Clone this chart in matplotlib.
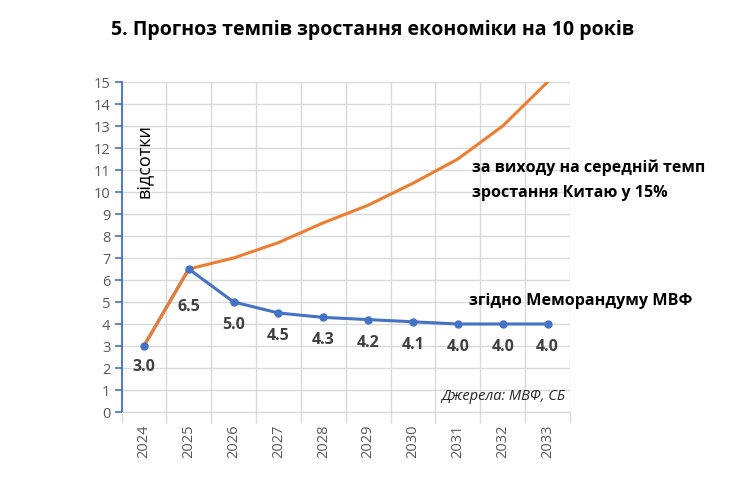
import matplotlib.pyplot as plt
import numpy as np

plt.rcParams['font.family'] = ['Open Sans', 'DejaVu Sans']

years = ['2024', '2025', '2026', '2027', '2028', '2029', '2030', '2031', '2032', '2033']
imf = [3.0, 6.5, 5.0, 4.5, 4.3, 4.2, 4.1, 4.0, 4.0, 4.0]
china = [3.0, 6.5, 7.0, 7.7, 8.6, 9.4, 10.4, 11.5, 13.0, 15.0]
# label offsets below points, in pixels
lab_off = [-21, -38, -23, -23, -23, -23, -23, -23, -23, -23]

blue = '#4472C4'
orange = '#ED7D31'
grid_c = '#D9D9D9'

fig = plt.figure(figsize=(7.5, 4.83), dpi=100)
ax = fig.add_axes([121.5 / 750, 1 - 412 / 483, (570 - 121.5) / 750, 330 / 483])

x = np.arange(len(years))
ax.plot(x, imf, color=blue, lw=2.2, zorder=3)
ax.plot(x, china, color=orange, lw=2.2, solid_capstyle='round', zorder=4)
ax.plot(x, imf, color=blue, ls='none', marker='o', ms=5, zorder=5)

for xi, v, o in zip(x, imf, lab_off):
    ax.annotate(f'{v:.1f}', (xi, v), xytext=(0, o * 0.72), textcoords='offset points',
                ha='center', va='center', fontsize=11.5, fontweight='bold', color='#404040')

ax.set_xlim(-0.5, len(years) - 0.5)
ax.set_ylim(0, 15)
ax.set_yticks(range(0, 16))
ax.set_xticks(x)
ax.set_xticklabels(years, rotation=90)
ax.set_xticks(np.arange(-0.5, len(years), 1), minor=True)

ax.grid(True, axis='y', color=grid_c, lw=1)
ax.grid(True, axis='x', which='minor', color=grid_c, lw=1)
ax.set_axisbelow(True)

for s in ['top', 'right']:
    ax.spines[s].set_visible(False)
ax.spines['bottom'].set_color(grid_c)
ax.spines['left'].set_color(blue)
ax.spines['left'].set_linewidth(1.3)

ax.tick_params(axis='y', colors=blue, length=5, width=1.2, labelcolor='#595959', labelsize=10.5, pad=3)
ax.tick_params(axis='x', which='major', length=0, labelcolor='#595959', labelsize=10.5, pad=9)
ax.tick_params(axis='x', which='minor', length=8, color=grid_c, width=1)

fig.text(373 / 750, 1 - 30 / 483, '5. Прогноз темпів зростання економіки на 10 років',
         ha='center', va='center', fontsize=14, fontweight='bold', color='black')
fig.text(144 / 750, 1 - 161 / 483, 'відсотки', rotation=90, ha='center', va='center',
         fontsize=13, color='black')
fig.text(472 / 750, 1 - 168 / 483, 'за виходу на середній темп', ha='left', va='center',
         fontsize=11.5, fontweight='bold', color='black')
fig.text(472 / 750, 1 - 193 / 483, 'зростання Китаю у 15%', ha='left', va='center',
         fontsize=11.5, fontweight='bold', color='black')
fig.text(469 / 750, 1 - 301 / 483, 'згідно Меморандуму МВФ', ha='left', va='center',
         fontsize=11.6, fontweight='bold', color='black')
fig.text(565 / 750, 1 - 396 / 483, 'Джерела: МВФ, СБ', ha='right', va='center',
         fontsize=10.5, style='italic', color='#262626')

fig.savefig('out.png', dpi=100)
